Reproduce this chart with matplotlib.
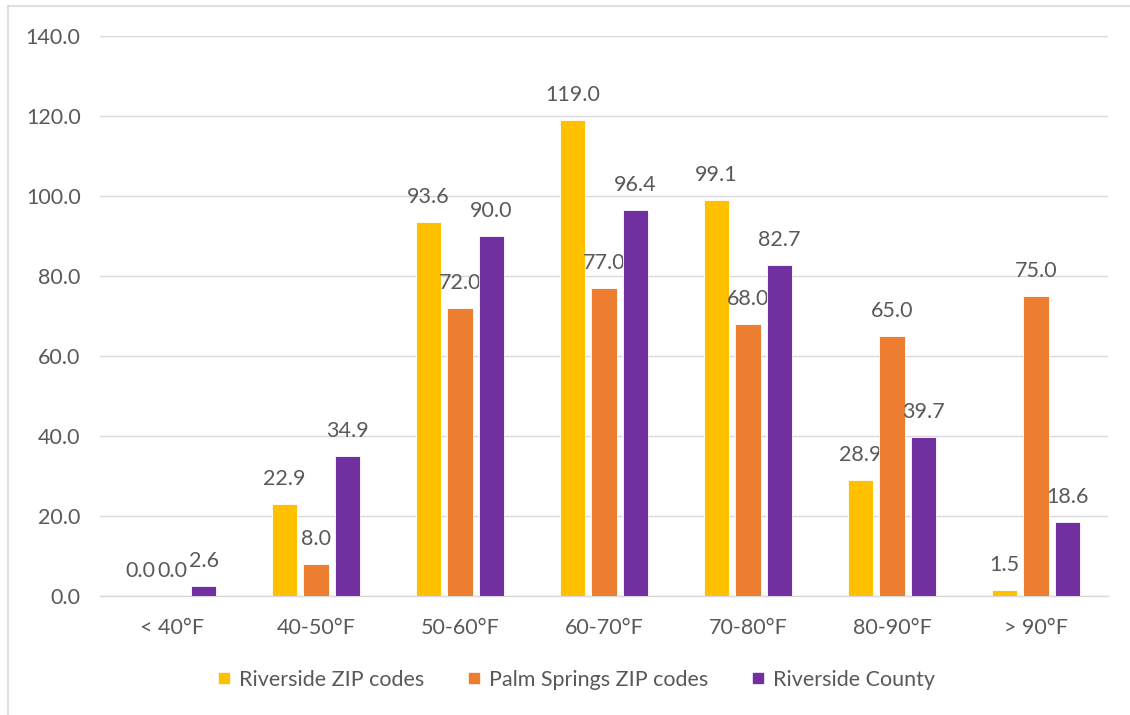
import numpy as np
import matplotlib.pyplot as plt
from matplotlib.lines import Line2D

# data
categories = ['< 40°F', '40-50°F', '50-60°F', '60-70°F', '70-80°F', '80-90°F', '> 90°F']
riverside_zip = [0.0, 22.9, 93.6, 119.0, 99.1, 28.9, 1.5]
palm_springs_zip = [0.0, 8.0, 72.0, 77.0, 68.0, 65.0, 75.0]
riverside_county = [2.6, 34.9, 90.0, 96.4, 82.7, 39.7, 18.6]

series_names = ['Riverside ZIP codes', 'Palm Springs ZIP codes', 'Riverside County']
colors = ['#FFC000', '#ED7D31', '#7030A0']
text_color = '#595959'
fs = 15.5

plt.rcParams['font.family'] = ['Lato', 'DejaVu Sans']

fig = plt.figure(figsize=(11.3, 7.15), dpi=100)
ax = fig.add_axes([100 / 1130, 1 - 596 / 715, 1008 / 1130, 560 / 715])

x = np.arange(len(categories))
width = 0.175
step = 0.219
all_series = [riverside_zip, palm_springs_zip, riverside_county]

for i, (vals, c) in enumerate(zip(all_series, colors)):
    pos = x + (i - 1) * step
    ax.bar(pos, vals, width=width, color=c, edgecolor='white', linewidth=0.6, zorder=3)
    for px, v in zip(pos, vals):
        ax.annotate(f'{v:.1f}', (px, v), xytext=(0, 18), textcoords='offset points',
                    ha='center', va='center', fontsize=fs, color=text_color)

ax.set_ylim(0, 140)
ax.set_xlim(-0.5, len(categories) - 0.5)
ax.set_yticks(np.arange(0, 141, 20))
ax.set_yticklabels([f'{t:.1f}' for t in np.arange(0, 141, 20)])
ax.set_xticks(x)
ax.set_xticklabels(categories)
ax.tick_params(axis='both', length=0, labelsize=fs, colors=text_color)
ax.tick_params(axis='y', pad=14)
ax.tick_params(axis='x', pad=16)
ax.grid(axis='y', color='#D9D9D9', linewidth=1, zorder=0)
for s in ['top', 'right', 'left']:
    ax.spines[s].set_visible(False)
ax.spines['bottom'].set_color('#D9D9D9')
ax.spines['bottom'].set_linewidth(1)

handles = [Line2D([0], [0], marker='s', color='none', markerfacecolor=c, markeredgecolor=c,
                  markersize=7.5) for c in colors]
fig.legend(handles, series_names, loc='center', bbox_to_anchor=(0.51, 1 - 680 / 715),
           ncol=3, frameon=False, fontsize=fs, labelcolor=text_color,
           handlelength=0.6, handletextpad=0.4, columnspacing=2.0)

# outer chart border (left and top visible)
fig.add_artist(Line2D([8 / 1130, 8 / 1130], [0, 1 - 6 / 715], transform=fig.transFigure,
                      color='#D9D9D9', linewidth=1.2))
fig.add_artist(Line2D([8 / 1130, 1], [1 - 6 / 715, 1 - 6 / 715], transform=fig.transFigure,
                      color='#D9D9D9', linewidth=1.2))

fig.savefig('out.png', dpi=100)
